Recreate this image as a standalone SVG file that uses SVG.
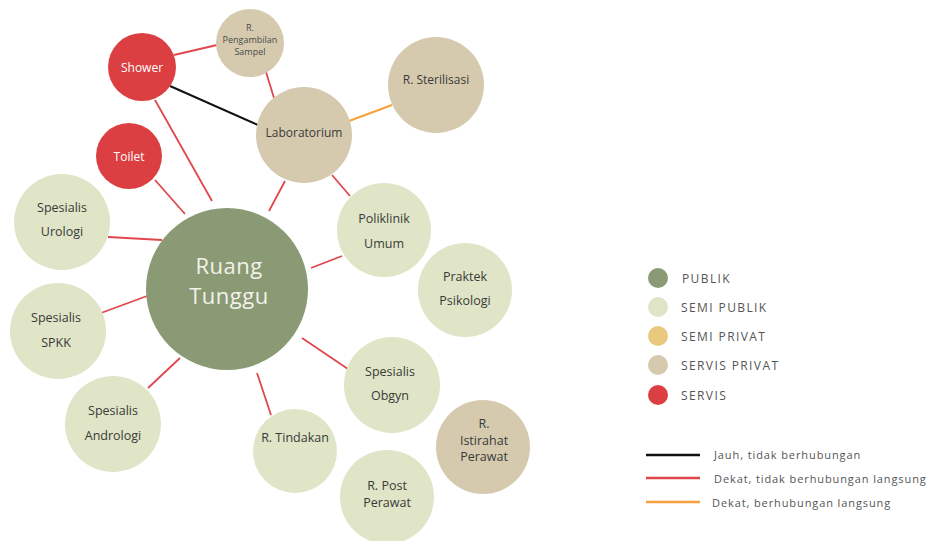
<svg xmlns="http://www.w3.org/2000/svg" width="942" height="541" viewBox="0 0 942 541">
<style>
.pub{fill:#8a9a74}
.semi{fill:#dfe5c6}
.sprv{fill:#e9c97f}
.svp{fill:#d5caae}
.srv{fill:#dc3f41}
.t{font-family:"Open Sans","Noto Sans",sans-serif;font-size:12.5px;fill:#3a3a3a;text-anchor:middle}
.tw{font-family:"Open Sans","Noto Sans",sans-serif;font-size:12px;fill:#ffffff;text-anchor:middle}
.ts{font-family:"Open Sans","Noto Sans",sans-serif;font-size:9px;fill:#4a4a4a;text-anchor:middle}
.big{font-family:"Open Sans","Noto Sans",sans-serif;font-size:22px;fill:#f2f2ea;text-anchor:middle;letter-spacing:0.5px}
.lg{font-family:"Open Sans","Noto Sans",sans-serif;font-size:12px;fill:#555;letter-spacing:1.4px}
.lg2{font-family:"Open Sans","Noto Sans",sans-serif;font-size:11px;fill:#555;letter-spacing:0.9px}
.red{stroke:#e0474c;stroke-width:1.8;fill:none}
.blk{stroke:#111;stroke-width:2;fill:none}
.org{stroke:#f7a03c;stroke-width:2;fill:none}
</style>
<rect width="942" height="541" fill="#ffffff"/>
<g id="connectors">
<line class="red" x1="174" y1="55" x2="217" y2="45"/>
<line class="red" x1="266" y1="72" x2="274" y2="98"/>
<line class="blk" x1="170" y1="86" x2="258" y2="125"/>
<line class="org" x1="349" y1="121" x2="392" y2="105"/>
<line class="red" x1="332" y1="175" x2="350" y2="196"/>
<line class="red" x1="285" y1="181" x2="269" y2="211"/>
<line class="red" x1="155" y1="100" x2="212" y2="201"/>
<line class="red" x1="155" y1="180" x2="185" y2="214"/>
<line class="red" x1="108" y1="237" x2="162" y2="240"/>
<line class="red" x1="101" y1="313" x2="147" y2="296"/>
<line class="red" x1="148" y1="388" x2="180" y2="358"/>
<line class="red" x1="271" y1="415" x2="257" y2="373"/>
<line class="red" x1="348" y1="369" x2="302" y2="338"/>
<line class="red" x1="342" y1="256" x2="311" y2="268"/>
</g>
<g id="shower"><circle class="srv" cx="142" cy="67" r="34"/><text class="tw" x="142" y="72">Shower</text></g>
<g id="pengambilan"><circle class="svp" cx="250" cy="43" r="34"/><text class="ts" x="250" y="31">R.</text><text class="ts" x="250" y="43">Pengambilan</text><text class="ts" x="250" y="55">Sampel</text></g>
<g id="laboratorium"><circle class="svp" cx="304" cy="135" r="48"/><text class="t" x="304" y="137" style="font-size:12px">Laboratorium</text></g>
<g id="sterilisasi"><circle class="svp" cx="436" cy="85" r="48"/><text class="t" x="436" y="84" style="font-size:12px">R. Sterilisasi</text></g>
<g id="toilet"><circle class="srv" cx="129" cy="156" r="33"/><text class="tw" x="129" y="161">Toilet</text></g>
<g id="urologi"><circle class="semi" cx="62" cy="222" r="48"/><text class="t" x="62" y="212">Spesialis</text><text class="t" x="62" y="236">Urologi</text></g>
<g id="ruang-tunggu"><circle class="pub" cx="227" cy="289" r="81"/><text class="big" x="229" y="274">Ruang</text><text class="big" x="229" y="304">Tunggu</text></g>
<g id="poliklinik"><circle class="semi" cx="384" cy="230" r="47"/><text class="t" x="384" y="223">Poliklinik</text><text class="t" x="384" y="248">Umum</text></g>
<g id="psikologi"><circle class="semi" cx="465" cy="290" r="47"/><text class="t" x="465" y="281">Praktek</text><text class="t" x="465" y="305">Psikologi</text></g>
<g id="spkk"><circle class="semi" cx="58" cy="331" r="48"/><text class="t" x="56" y="322">Spesialis</text><text class="t" x="56" y="347">SPKK</text></g>
<g id="andrologi"><circle class="semi" cx="113" cy="424" r="48"/><text class="t" x="113" y="415">Spesialis</text><text class="t" x="113" y="440">Andrologi</text></g>
<g id="tindakan"><circle class="semi" cx="295" cy="451" r="42"/><text class="t" x="295" y="442">R. Tindakan</text></g>
<g id="obgyn"><circle class="semi" cx="392" cy="385" r="48"/><text class="t" x="390" y="376">Spesialis</text><text class="t" x="390" y="400">Obgyn</text></g>
<g id="post-perawat"><circle class="semi" cx="387" cy="497" r="47"/><text class="t" x="387" y="490">R. Post</text><text class="t" x="387" y="507">Perawat</text></g>
<g id="istirahat"><circle class="svp" cx="483" cy="447" r="47"/><text class="t" x="484" y="428">R.</text><text class="t" x="484" y="445">Istirahat</text><text class="t" x="484" y="461">Perawat</text></g>
<g id="legend">
<circle class="pub" cx="658" cy="278" r="10"/><text class="lg" x="682" y="283">PUBLIK</text>
<circle class="semi" cx="658" cy="307" r="10"/><text class="lg" x="681" y="312">SEMI PUBLIK</text>
<circle class="sprv" cx="658" cy="336" r="10"/><text class="lg" x="681" y="341">SEMI PRIVAT</text>
<circle class="svp" cx="658" cy="365" r="10"/><text class="lg" x="681" y="370">SERVIS PRIVAT</text>
<circle class="srv" cx="658" cy="395" r="10"/><text class="lg" x="681" y="400">SERVIS</text>
<line class="blk" x1="646" y1="455" x2="700" y2="455" style="stroke-width:2.5"/><text class="lg2" x="714" y="459">Jauh, tidak berhubungan</text>
<line class="red" x1="646" y1="478" x2="700" y2="478" style="stroke-width:2.5"/><text class="lg2" x="714" y="483">Dekat, tidak berhubungan langsung</text>
<line class="org" x1="646" y1="502" x2="700" y2="502" style="stroke-width:2.5"/><text class="lg2" x="712" y="507">Dekat, berhubungan langsung</text>
</g>
</svg>
